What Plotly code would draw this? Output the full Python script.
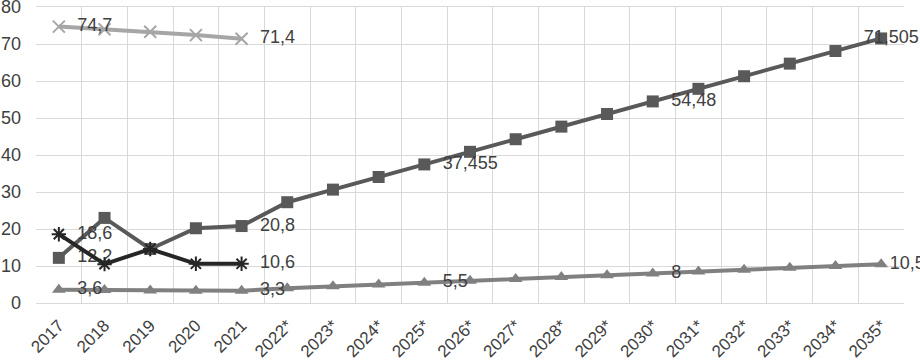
import plotly.graph_objects as go

years = ["2017", "2018", "2019", "2020", "2021", "2022*", "2023*", "2024*", "2025*",
         "2026*", "2027*", "2028*", "2029*", "2030*", "2031*", "2032*", "2033*", "2034*", "2035*"]

light_series = [74.7, 74.0, 73.3, 72.4, 71.4]
square_series = [12.2, 23.0, 14.6, 20.2, 20.8, 27.24, 30.645, 34.05, 37.455, 40.86, 44.265,
                 47.67, 51.075, 54.48, 57.885, 61.29, 64.695, 68.1, 71.505]
black_series = [18.6, 10.5, 14.6, 10.6, 10.6]
triangle_series = [3.6, 3.5, 3.4, 3.3, 3.3, 4.0, 4.5, 5.0, 5.5, 6.0, 6.5, 7.0, 7.5, 8.0,
                   8.5, 9.0, 9.5, 10.0, 10.5]

light_labels = [0, 4]
square_labels = [0, 4, 8, 13, 18]
black_labels = [0, 4]
triangle_labels = [0, 4, 8, 13, 18]

PAD = "\u00a0\u00a0"


def fmt(v):
    s = ("%.3f" % v).rstrip("0").rstrip(".")
    return s.replace(".", ",")


def texts(vals, idx, special=None):
    special = special or {}
    out = []
    for i, v in enumerate(vals):
        if i in idx:
            out.append(special.get(i, PAD) + fmt(v))
        else:
            out.append("")
    return out


def positions(n, special):
    return [special.get(i, "middle right") for i in range(n)]


FAM = "Liberation Sans, Arial, sans-serif"
font_lbl = dict(family=FAM, size=18, color="#404040")
n = len(years)

fig = go.Figure()
fig.add_trace(go.Scatter(
    x=years[:len(light_series)], y=light_series, mode="lines+markers+text",
    line=dict(color="#a6a6a6", width=4),
    marker=dict(symbol="x-thin", size=12, line=dict(color="#a6a6a6", width=2)),
    text=texts(light_series, light_labels), textposition="middle right",
    textfont=font_lbl, cliponaxis=False))
fig.add_trace(go.Scatter(
    x=years, y=square_series, mode="lines+markers+text",
    line=dict(color="#595959", width=4),
    marker=dict(symbol="square", size=12, color="#595959"),
    text=texts(square_series, square_labels, {n - 1: "\u00a0\u00a0\u00a0\u00a0"}),
    textposition=positions(n, {n - 1: "middle center"}),
    textfont=font_lbl, cliponaxis=False))
fig.add_trace(go.Scatter(
    x=years[:len(black_series)], y=black_series, mode="lines+markers+text",
    line=dict(color="#262626", width=4),
    marker=dict(symbol="asterisk-open", size=12, line=dict(color="#262626", width=2)),
    text=texts(black_series, black_labels), textposition="middle right",
    textfont=font_lbl, cliponaxis=False))
fig.add_trace(go.Scatter(
    x=years, y=triangle_series, mode="lines+markers+text",
    line=dict(color="#808080", width=4),
    marker=dict(symbol="triangle-up", size=12, color="#808080"),
    text=texts(triangle_series, triangle_labels, {n - 1: ""}), textposition="middle right",
    textfont=font_lbl, cliponaxis=False))

fig.update_layout(
    width=920, height=361,
    margin=dict(l=36, r=16, t=7, b=58),
    paper_bgcolor="white", plot_bgcolor="white",
    showlegend=False,
    font=dict(family=FAM, size=18, color="#404040"),
    xaxis=dict(type="category", range=[-0.5, n - 0.5], tickson="boundaries",
               showgrid=True, gridcolor="#d9d9d9",
               gridwidth=1, tickangle=-45, ticks="", showline=True, linecolor="#d9d9d9",
               mirror=True, automargin=False, ticklabeloverflow="allow",
               ticklabelstandoff=5, tickfont=dict(size=17, color="#404040")),
    yaxis=dict(range=[0, 80], dtick=10, showgrid=True, gridcolor="#d9d9d9", gridwidth=1,
               zeroline=False, showline=False, ticks="", ticklabelstandoff=14,
               automargin=False, ticklabeloverflow="allow",
               tickfont=dict(size=18, color="#404040")),
)

fig.write_html("out.html", config={"displayModeBar": False},
               post_script="document.body.style.margin='0';")
